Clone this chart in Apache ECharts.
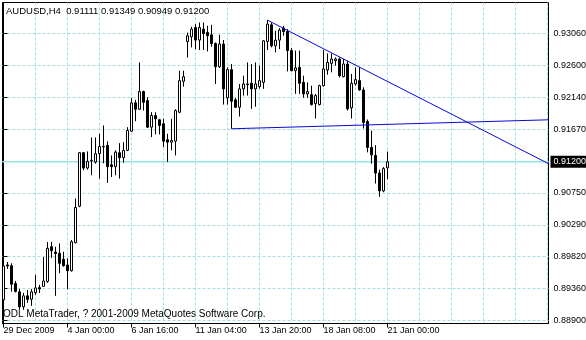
<!DOCTYPE html>
<html><head><meta charset="utf-8">
<script src="https://cdn.jsdelivr.net/npm/echarts@6/dist/echarts.min.js"></script>
<style>html,body{margin:0;padding:0;background:#fff}#c{width:586px;height:340px}</style>
</head><body><div id="c"></div>
<script>
const symbol = 'AUDUSD';
const timeframe = 'H4';
const copyright = 'ODL MetaTrader, ? 2001-2009 MetaQuotes Software Corp.';

const opens = [
0.89199,0.89705,0.89694,0.89437,0.89315,0.89098,0.89257,0.89209,0.89304,0.89377,
0.89394,0.89466,0.89969,0.89892,0.89874,0.89787,0.89705,0.89622,0.90027,0.90557,
0.91332,0.91110,0.91214,0.91197,0.91318,0.91416,0.91438,0.91156,0.91130,0.91332,
0.91260,0.91366,0.91644,0.92055,0.91962,0.92218,0.92088,0.91702,0.91871,0.91809,
0.91751,0.91520,0.91485,0.91500,0.91919,0.92367,0.92944,0.93012,0.93147,0.92965,
0.93123,0.93074,0.93041,0.92915,0.92579,0.92907,0.92127,0.92536,0.92098,0.91991,
0.92257,0.92329,0.92338,0.92257,0.92290,0.92352,0.92944,0.93186,0.92882,0.92964,
0.93138,0.93089,0.92813,0.92521,0.92569,0.92352,0.92185,0.92174,0.92044,0.92030,
0.92304,0.92531,0.92627,0.92666,0.92690,0.92434,0.92618,0.91982,0.92329,0.92377,
0.92242,0.91784,0.91409,0.91293,0.91038,0.90778,0.91111];
const highs = [
0.89820,0.89748,0.89729,0.89473,0.89358,0.89300,0.89343,0.89358,0.89560,0.89416,
0.89820,0.90037,0.90041,0.89969,0.90018,0.89897,0.89801,0.90066,0.90668,0.91341,
0.91341,0.91351,0.91553,0.91553,0.91607,0.91727,0.91496,0.91293,0.91366,0.91471,
0.91485,0.91702,0.92127,0.92098,0.92641,0.92232,0.92135,0.91919,0.91919,0.91823,
0.91823,0.91607,0.91823,0.91962,0.92521,0.92521,0.93074,0.93157,0.93196,0.93219,
0.93219,0.93171,0.93186,0.92930,0.93041,0.92965,0.92569,0.92618,0.92127,0.92329,
0.92449,0.92641,0.92618,0.92641,0.92593,0.92964,0.93253,0.93219,0.93099,0.93138,
0.93171,0.93123,0.92849,0.92813,0.92813,0.92449,0.92352,0.92304,0.92185,0.92319,
0.92820,0.92771,0.92771,0.92713,0.92713,0.92690,0.92666,0.92473,0.92569,0.92569,
0.92280,0.91813,0.91654,0.91441,0.91087,0.91124,0.91349];
const lows = [
0.89127,0.89647,0.89319,0.89307,0.89062,0.89055,0.89156,0.89112,0.89271,0.89299,
0.89387,0.89445,0.89806,0.89257,0.89585,0.89680,0.89354,0.89608,0.90018,0.90542,
0.91077,0.91087,0.91005,0.91173,0.90957,0.91178,0.90896,0.90980,0.91005,0.90957,
0.91188,0.91355,0.91633,0.91789,0.91953,0.91943,0.91693,0.91558,0.91597,0.91597,
0.91413,0.91197,0.91366,0.91293,0.91904,0.92290,0.92713,0.92858,0.92835,0.92820,
0.92820,0.92800,0.92868,0.92329,0.92560,0.92030,0.92030,0.91679,0.91982,0.91857,
0.92160,0.92160,0.91968,0.92000,0.92261,0.92257,0.92820,0.92858,0.92785,0.92835,
0.93027,0.92511,0.92511,0.92185,0.92185,0.92127,0.92127,0.92016,0.91827,0.92016,
0.92290,0.92463,0.92497,0.92593,0.92424,0.92424,0.91943,0.91827,0.92304,0.92232,
0.91683,0.91337,0.91173,0.90885,0.90694,0.90759,0.90949];
const closes = [
0.89690,0.89690,0.89426,0.89322,0.89098,0.89257,0.89206,0.89315,0.89372,0.89358,
0.89473,0.89946,0.89911,0.89871,0.89729,0.89694,0.89622,0.90041,0.90538,0.91332,
0.91110,0.91207,0.91221,0.91318,0.91423,0.91423,0.91130,0.91130,0.91341,0.91260,
0.91366,0.91654,0.92055,0.91962,0.92218,0.92063,0.91702,0.91871,0.91823,0.91727,
0.91500,0.91485,0.91510,0.91943,0.92377,0.92434,0.93027,0.93123,0.92965,0.93147,
0.93060,0.93027,0.92915,0.92579,0.92907,0.92257,0.92536,0.92078,0.91991,0.92257,
0.92329,0.92319,0.92257,0.92329,0.92377,0.92954,0.93196,0.92882,0.92964,0.93109,
0.93089,0.92813,0.92521,0.92560,0.92338,0.92185,0.92218,0.92030,0.92160,0.92304,
0.92546,0.92641,0.92690,0.92690,0.92449,0.92618,0.91968,0.92338,0.92391,0.92242,
0.91770,0.91409,0.91301,0.91038,0.90778,0.91101,0.91200];

const bidPrice = 0.91200;

// x tick labels (bar index -> text)
const xLabelIdx = [0, 16, 32, 48, 64, 80, 96];
const xLabels = ['29 Dec 2009', '4 Jan 00:00', '6 Jan 16:00', '11 Jan 04:00', '13 Jan 20:00', '18 Jan 08:00', '21 Jan 00:00'];
const xGridIdx = [0, 8, 16, 24, 32, 40, 48, 56, 64, 72, 80, 88, 96, 104, 112, 120, 128, 136];

// y price grid levels and their labels
const yTickValues = [0.889, 0.893622, 0.898244, 0.902867, 0.907489, 0.912111, 0.916733, 0.921356, 0.925978, 0.9306];
const yTickLabels = ['0.88900', '0.89360', '0.89820', '0.90290', '0.90750', '', '0.91670', '0.92140', '0.92600', '0.93060'];

// trend lines [bar index, price]
const trendDown = [[66, 0.93253], [136.25, 0.91173]];
const trendFlat = [[57, 0.91679], [136.25, 0.91809]];

const X_MIN = -0.25, X_MAX = 136.25;
const Y_MIN = 0.8885652, Y_MAX = 0.9350934;

const FONT = "'Liberation Sans',Arial,sans-serif";
const FS = 9;
const GRID = '#a6dedf';
const BID = '#98e2ea';
const TREND = '#0a0ad0';

const candles = opens.map((o, i) => [i, o, closes[i], lows[i], highs[i]]);
const bidLine = [[X_MIN, bidPrice], [X_MAX, bidPrice]];
const last = opens.length - 1;
const header = symbol + ',' + timeframe + '  ' +
  [opens[last], highs[last], lows[last], closes[last]].map(v => v.toFixed(5)).join(' ');

const chart = echarts.init(document.getElementById('c'), null, {renderer: 'canvas'});
chart.setOption({
  animation: false,
  backgroundColor: '#fff',
  grid: {left: 2.5, top: 2.5, right: 37.5, bottom: 16.5, show: true, borderColor: '#000', borderWidth: 1,
         backgroundColor: '#fff', containLabel: false, outerBoundsMode: 'none'},
  xAxis: [
    {type: 'value', position: 'top', min: X_MIN, max: X_MAX,
     axisLine: {show: false}, axisTick: {show: false, customValues: xGridIdx},
     axisLabel: {show: false, customValues: xGridIdx},
     splitLine: {show: true, lineStyle: {color: GRID, width: 1, type: [3, 2]}}},
    {type: 'value', position: 'bottom', min: X_MIN, max: X_MAX,
     axisLine: {show: true, lineStyle: {color: '#000', width: 1}},
     axisTick: {show: true, customValues: xLabelIdx, length: 4, lineStyle: {color: '#000'}},
     axisLabel: {show: true, customValues: xLabelIdx, align: 'left', margin: 2, color: '#000',
       fontFamily: FONT, fontSize: FS, lineHeight: 11, hideOverlap: false,
       formatter: v => { const k = xLabelIdx.indexOf(Math.round(v)); return k >= 0 ? xLabels[k] : ''; }},
     splitLine: {show: false}}
  ],
  yAxis: {type: 'value', position: 'right', min: Y_MIN, max: Y_MAX, scale: true,
    axisLine: {show: true, lineStyle: {color: '#000', width: 1}},
    axisTick: {show: true, customValues: yTickValues, length: 4, lineStyle: {color: '#000'}},
    axisLabel: {show: true, customValues: yTickValues, margin: 5, color: '#000', fontFamily: FONT, fontSize: FS,
      hideOverlap: false,
      formatter: v => { for (let k = 0; k < yTickValues.length; k++) if (Math.abs(v - yTickValues[k]) < 1e-6) return yTickLabels[k]; return ''; }},
    splitLine: {show: true, lineStyle: {color: GRID, width: 1, type: [3, 2]}}},
  series: [
    {type: 'line', data: bidLine, xAxisIndex: 0, z: 1, silent: true, symbol: 'none', clip: false,
     lineStyle: {color: BID, type: 'solid', width: 1.5},
     endLabel: {show: true, distance: 2, formatter: () => bidPrice.toFixed(5),
       backgroundColor: '#000', color: '#fff', padding: [2, 3, 1, 3], fontFamily: FONT, fontSize: FS},
     emphasis: {disabled: true}},
    {type: 'candlestick', xAxisIndex: 0, z: 2, barWidth: 2,
     encode: {x: 0, y: [1, 2, 3, 4]},
     data: candles,
     itemStyle: {color: '#fff', color0: '#000', borderColor: '#000', borderColor0: '#000', borderColorDoji: '#000', borderWidth: 1},
     emphasis: {disabled: true}},
    {type: 'line', xAxisIndex: 0, z: 3, data: trendDown, symbol: 'none', silent: true,
     lineStyle: {color: TREND, width: 1}},
    {type: 'line', xAxisIndex: 0, z: 3, data: trendFlat, symbol: 'none', silent: true,
     lineStyle: {color: TREND, width: 1}}
  ],
  graphic: [
    {type: 'text', x: 6, y: 11, z: 100, style: {text: header, fill: '#000', font: '9.5px ' + FONT, verticalAlign: 'middle'}},
    {type: 'text', x: 3, y: 314, z: 100, style: {text: copyright, fill: '#000', font: '10px ' + FONT, verticalAlign: 'middle'}}
  ]
});
</script></body></html>
